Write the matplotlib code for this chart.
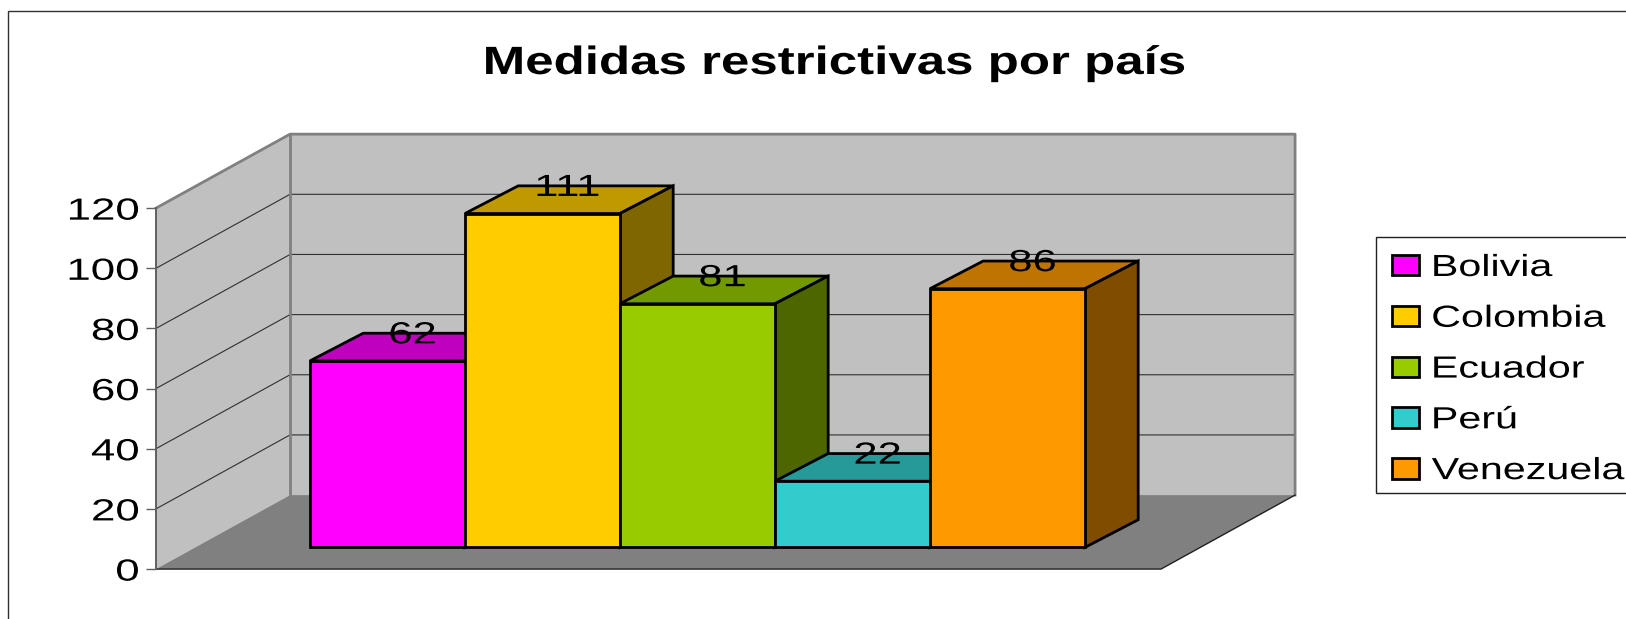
import matplotlib
matplotlib.use("Agg")
import matplotlib.pyplot as plt
from matplotlib.patches import Polygon, Patch, Rectangle
from matplotlib.patheffects import AbstractPathEffect
from matplotlib.transforms import Affine2D

plt.rcParams['font.family'] = ['Liberation Sans', 'DejaVu Sans']

# chart data
paises = ["Bolivia", "Colombia", "Ecuador", "Perú", "Venezuela"]
medidas = [62, 111, 81, 22, 86]
ticks = [0, 20, 40, 60, 80, 100, 120]
titulo = "Medidas restrictivas por país"

# front, top and side colour of every bar
frente = ["#FF00FF", "#FFCC00", "#99CC00", "#33CCCC", "#FF9900"]
arriba = ["#BF00BF", "#BF9900", "#739900", "#269999", "#BF7300"]
lado = ["#800080", "#806600", "#4D6600", "#196666", "#804D00"]

# oblique projection: one unit of depth moves this far in x and in value
DEPTH_X = 0.865
DEPTH_Y = 24.6
FLOOR_W = 6.484
BAR_X0 = 0.74
BAR_D0 = 0.293
BAR_D1 = 0.667
BAR_SKEW = 0.02  # bars lean a bit further right than the floor does
LABEL_DROP = 0.7


class Stretch(AbstractPathEffect):
    # the original picture was resized, so its text is wider than the font
    def __init__(self, sx, anchor="left"):
        super().__init__()
        self.sx = sx
        self.anchor = anchor

    def draw_path(self, renderer, gc, tpath, affine, rgbFace=None):
        box = tpath.get_extents()
        c = {"left": box.x0, "center": (box.x0 + box.x1) / 2, "right": box.x1}[self.anchor]
        stretch = Affine2D().translate(-c, 0).scale(self.sx, 1).translate(c, 0)
        renderer.draw_path(gc, tpath, stretch + affine, rgbFace)


def project(x, v, d):
    return (x + d * DEPTH_X, v + d * DEPTH_Y)


def face(ax, points, **kwargs):
    ax.add_patch(Polygon([project(*p) for p in points], closed=True, **kwargs))


def draw_walls(ax):
    top = ticks[-1]
    face(ax, [(0, 0, 0), (0, 0, 1), (0, top, 1), (0, top, 0)], facecolor="#C0C0C0", edgecolor="none", zorder=1)
    face(ax, [(0, 0, 1), (FLOOR_W, 0, 1), (FLOOR_W, top, 1), (0, top, 1)], facecolor="#C0C0C0", edgecolor="none", zorder=1)
    face(ax, [(0, 0, 0), (FLOOR_W, 0, 0), (FLOOR_W, 0, 1), (0, 0, 1)], facecolor="#808080", edgecolor="none", zorder=1)

    # gridlines run along the left wall and then the back wall
    for t in ticks[1:-1]:
        xs, ys = zip(project(0, t, 0), project(0, t, 1), project(FLOOR_W, t, 1))
        ax.plot(xs, ys, color="#303030", lw=0.8, zorder=2)

    # outline of the walls
    xs, ys = zip(project(0, top, 0), project(0, top, 1), project(FLOOR_W, top, 1), project(FLOOR_W, 0, 1))
    ax.plot(xs, ys, color="#808080", lw=2.0, zorder=3)
    xs, ys = zip(project(0, top, 1), project(0, 0, 1))
    ax.plot(xs, ys, color="#808080", lw=2.0, zorder=3)
    # front and right edge of the floor
    xs, ys = zip(project(0, 0, 0), project(FLOOR_W, 0, 0), project(FLOOR_W, 0, 1))
    ax.plot(xs, ys, color="#202020", lw=1.0, zorder=3)


def draw_bars(ax):
    z = 4
    for i, v in enumerate(medidas):
        x0 = BAR_X0 + i
        x1 = x0 + 1
        bx0 = x0 + BAR_SKEW
        bx1 = x1 + BAR_SKEW
        style = dict(edgecolor="black", lw=2.0, joinstyle="miter", zorder=z)
        face(ax, [(x0, v, BAR_D0), (x1, v, BAR_D0), (bx1, v, BAR_D1), (bx0, v, BAR_D1)], facecolor=arriba[i], **style)
        face(ax, [(x1, 0, BAR_D0), (bx1, 0, BAR_D1), (bx1, v, BAR_D1), (x1, v, BAR_D0)], facecolor=lado[i], **style)
        face(ax, [(x0, 0, BAR_D0), (x1, 0, BAR_D0), (x1, v, BAR_D0), (x0, v, BAR_D0)], facecolor=frente[i], **style)
        z += 1
    # value labels sit on the back edge of the top face, over the middle of the bar
    for i, v in enumerate(medidas):
        lx = project(BAR_X0 + i + 0.5, v, (BAR_D0 + BAR_D1) / 2)[0]
        ly = project(0, v, BAR_D1)[1] - LABEL_DROP
        ax.text(lx, ly, str(v), ha="center", va="center", fontsize=22, color="black", zorder=20,
                path_effects=[Stretch(1.426, "center")])


def main():
    fig = plt.figure(figsize=(16.26, 6.19), dpi=100)
    ax = fig.add_axes([0, 0, 1, 1])
    ax.patch.set_visible(False)
    ax.set_xlim(-1.006, 9.484)
    ax.set_ylim(-16.6, 189.2)

    # chart area frame, it runs off the right and bottom of the picture
    fig.add_artist(Rectangle((8 / 1626, -0.1), 1.1, 1 - 11 / 619 + 0.1, transform=fig.transFigure,
                             facecolor="white", edgecolor="#303030", lw=1.0, zorder=-5))

    draw_walls(ax)
    draw_bars(ax)

    # the value axis is a real spine on the front edge of the left wall
    for name in ["top", "right", "bottom"]:
        ax.spines[name].set_visible(False)
    ax.spines["left"].set_position(("data", 0))
    ax.spines["left"].set_bounds(ticks[0], ticks[-1])
    ax.spines["left"].set_color("#606060")
    ax.spines["left"].set_linewidth(1.4)
    ax.spines["left"].set_zorder(6)
    ax.set_xticks([])
    ax.set_yticks(ticks)
    ax.tick_params(axis="y", length=7, width=1.0, color="#606060", pad=5, labelsize=22)
    for label in ax.get_yticklabels():
        label.set_path_effects([Stretch(1.435, "right")])
        label.set_verticalalignment("center_baseline")

    fig.text(834 / 1626, 1 - 74 / 619, titulo, ha="center", va="baseline", fontsize=28.4, fontweight="bold",
             path_effects=[Stretch(1.294, "center")])

    # legend box is wider than the picture, as in the original
    fig.add_artist(Rectangle((1376 / 1626, 1 - 492.7 / 619), 0.3, 255.7 / 619, transform=fig.transFigure,
                             facecolor="white", edgecolor="#202020", lw=1.0, zorder=-4))
    handles = [Patch(facecolor=c, edgecolor="black", lw=2.0) for c in frente]
    leg = ax.legend(handles, paises, loc="upper left", bbox_to_anchor=(1392 / 1626, 1 - 253 / 619),
                    bbox_transform=fig.transFigure, fontsize=22, frameon=False, borderaxespad=0, borderpad=0,
                    labelspacing=0.68, handlelength=0.88, handleheight=0.65, handletextpad=0.42)
    for t in leg.get_texts():
        t.set_path_effects([Stretch(1.35, "left")])

    fig.savefig("out.png", dpi=100)


if __name__ == "__main__":
    main()
